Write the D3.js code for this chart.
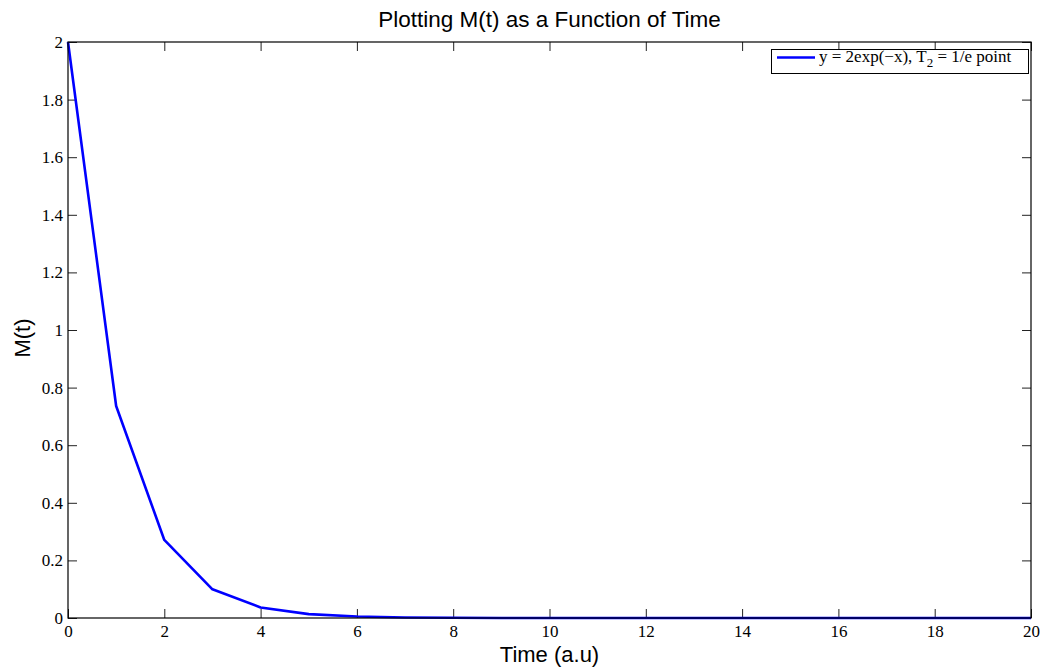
<!DOCTYPE html>
<html>
<head>
<meta charset="utf-8">
<script src="https://cdn.jsdelivr.net/npm/d3@7"></script>
<style>
  body { margin: 0; background: #fff; }
  svg { display: block; }
</style>
</head>
<body>
<svg width="1042" height="668"></svg>
<script>
// values (time in a.u, M(t))
var times = [0, 1, 2, 3, 4, 5, 6, 7, 8, 9, 10, 11, 12, 13, 14, 15, 16, 17, 18, 19, 20];
var mValues = [2, 0.736, 0.271, 0.0996, 0.0366, 0.0135, 0.005, 0.0018, 0.0007, 0.00025, 0.0001,
  0.00003, 0.00001, 0, 0, 0, 0, 0, 0, 0, 0];
var xTicks = [0, 2, 4, 6, 8, 10, 12, 14, 16, 18, 20];
var yTicks = [0, 0.2, 0.4, 0.6, 0.8, 1, 1.2, 1.4, 1.6, 1.8, 2];

var svg = d3.select("svg");
var plotLeft = 68, plotRight = 1031, plotTop = 42, plotBottom = 618;

var x = d3.scaleLinear().domain([0, 20]).range([plotLeft, plotRight]);
var y = d3.scaleLinear().domain([0, 2]).range([plotBottom, plotTop]);

var serif = "'Liberation Serif', 'Times New Roman', serif";
var sans = "'Liberation Sans', Arial, Helvetica, sans-serif";

function styleLabels(g) {
  g.select(".domain").remove();
  g.selectAll("text")
    .style("font-family", serif)
    .style("font-size", "17px")
    .attr("fill", "#000");
}

// inward ticks on all four sides, matlab style
svg.append("g")
  .attr("transform", "translate(0," + plotBottom + ")")
  .call(d3.axisBottom(x).tickValues(xTicks).tickSizeInner(-9).tickSizeOuter(0).tickPadding(7)
    .tickFormat(d3.format("d")))
  .call(styleLabels);

svg.append("g")
  .attr("transform", "translate(0," + plotTop + ")")
  .call(d3.axisTop(x).tickValues(xTicks).tickSizeInner(-9).tickSizeOuter(0).tickFormat(""))
  .call(function(g) { g.select(".domain").remove(); });

svg.append("g")
  .attr("transform", "translate(" + plotLeft + ",0)")
  .call(d3.axisLeft(y).tickValues(yTicks).tickSizeInner(-9).tickSizeOuter(0).tickPadding(5)
    .tickFormat(d3.format("~g")))
  .call(styleLabels);

svg.append("g")
  .attr("transform", "translate(" + plotRight + ",0)")
  .call(d3.axisRight(y).tickValues(yTicks).tickSizeInner(-9).tickSizeOuter(0).tickFormat(""))
  .call(function(g) { g.select(".domain").remove(); });

svg.selectAll(".tick line").attr("stroke", "#222");

// data line
var line = d3.line()
  .x(function(d, i) { return x(times[i]); })
  .y(function(d) { return y(d); });

svg.append("path")
  .datum(mValues)
  .attr("fill", "none")
  .attr("stroke", "#0000ff")
  .attr("stroke-width", 2.6)
  .attr("stroke-linejoin", "round")
  .attr("d", line);

// axes box
svg.append("rect")
  .attr("x", plotLeft).attr("y", plotTop)
  .attr("width", plotRight - plotLeft).attr("height", plotBottom - plotTop)
  .attr("fill", "none").attr("stroke", "#000").attr("stroke-width", 1.2);

// legend
var leg = svg.append("g");
leg.append("rect")
  .attr("x", 771.5).attr("y", 49.5).attr("width", 257).attr("height", 24)
  .attr("fill", "#fff").attr("stroke", "#000").attr("stroke-width", 1);
leg.append("line")
  .attr("x1", 777).attr("x2", 815).attr("y1", 57.5).attr("y2", 57.5)
  .attr("stroke", "#0000ff").attr("stroke-width", 2.6);
var lt = leg.append("text")
  .attr("x", 819).attr("y", 62)
  .style("font-family", serif).style("font-size", "17px");
lt.append("tspan").text("y = 2exp(\u2212x), T");
lt.append("tspan").attr("dy", 5).style("font-size", "13px").text("2");
lt.append("tspan").attr("dy", -5).text(" = 1/e point");

// titles
svg.append("text")
  .attr("x", (plotLeft + plotRight) / 2).attr("y", 27)
  .attr("text-anchor", "middle")
  .style("font-family", sans).style("font-size", "22.5px")
  .text("Plotting M(t) as a Function of Time");

svg.append("text")
  .attr("x", (plotLeft + plotRight) / 2).attr("y", 662)
  .attr("text-anchor", "middle")
  .style("font-family", sans).style("font-size", "22px")
  .text("Time (a.u)");

svg.append("text")
  .attr("transform", "translate(30,338) rotate(-90)")
  .attr("text-anchor", "middle")
  .style("font-family", sans).style("font-size", "22px")
  .text("M(t)");
</script>
</body>
</html>
